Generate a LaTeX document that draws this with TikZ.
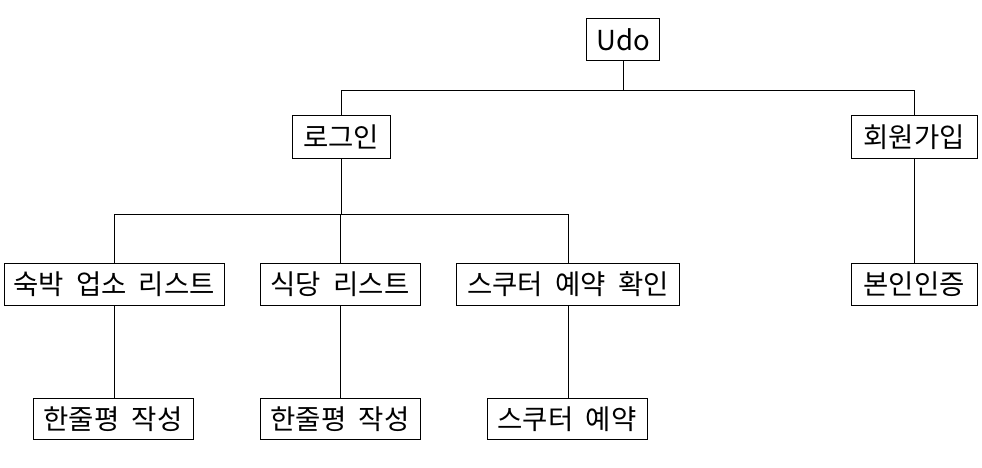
\documentclass[tikz,border=0pt]{standalone}
\usepackage{fontspec}
\setmainfont{Noto Sans CJK KR}[WordSpace=2.0]
\begin{document}
\begin{tikzpicture}[x=1pt,y=-1pt,
  box/.style={draw=black,line width=1pt,inner sep=0pt,minimum height=42pt,font=\fontsize{27.5}{30}\selectfont,fill=white},
  link/.style={draw=black,line width=1pt}]
\useasboundingbox (0,0) rectangle (982,468);
\fill[white] (0,0) rectangle (982,468);
\node[box,minimum width=73pt]  (udo)    at (623,40)  {Udo};
\node[box,minimum width=98pt]  (login)  at (341,137) {로그인};
\node[box,minimum width=126pt] (join)   at (914,137) {회원가입};
\node[box,minimum width=220pt] (lodge)  at (114,284) {숙박 업소 리스트};
\node[box,minimum width=160pt] (food)   at (340,284) {식당 리스트};
\node[box,minimum width=223pt] (scoot)  at (568,284) {스쿠터 예약 확인};
\node[box,minimum width=126pt] (auth)   at (914,284) {본인인증};
\node[box,minimum width=160pt,minimum height=41pt] (rev1)   at (113,419) {한줄평 작성};
\node[box,minimum width=160pt,minimum height=41pt] (rev2)   at (340,419) {한줄평 작성};
\node[box,minimum width=160pt,minimum height=41pt] (scoot2) at (567,419) {스쿠터 예약};
\coordinate (b1) at (0,91);
\coordinate (b2) at (0,214);
\draw[link] (udo.south) -- (udo.south |- b1);
\draw[link] (login.north) -- (login.north |- b1) -| (join.north);
\draw[link] (join.south) -- (auth.north);
\draw[link] (login.south) -- (login.south |- b2);
\draw[link] (lodge.north) -- (lodge.north |- b2) -| (scoot.north);
\draw[link] (food.north) -- (food.north |- b2);
\draw[link] (lodge.south) -- (lodge.south |- rev1.north);
\draw[link] (food.south) -- (food.south |- rev2.north);
\draw[link] (scoot.south) -- (scoot.south |- scoot2.north);
\end{tikzpicture}
\end{document}
